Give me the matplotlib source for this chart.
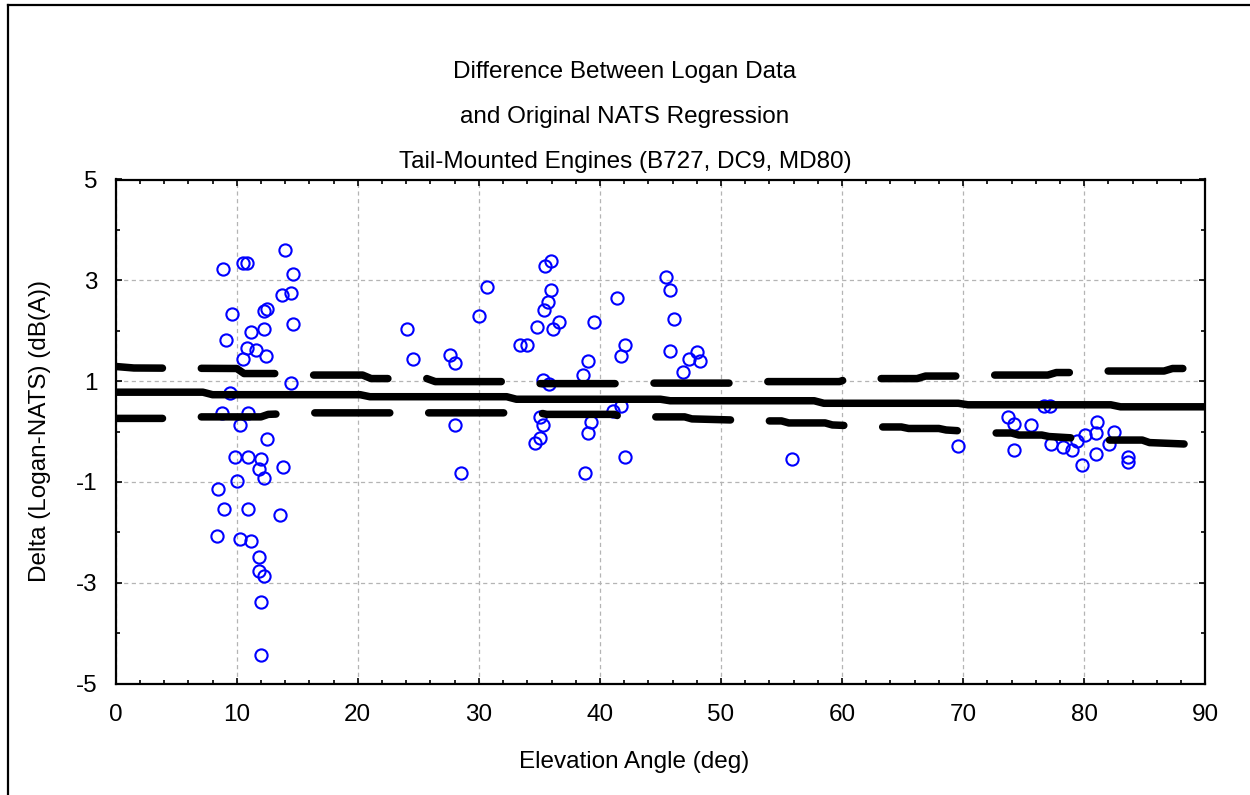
import matplotlib
matplotlib.use("Agg")
import matplotlib.pyplot as plt
from matplotlib.lines import Line2D
from matplotlib.ticker import MultipleLocator, FixedLocator

plt.rcParams['font.family'] = ['Liberation Sans', 'DejaVu Sans']
plt.rcParams['lines.scale_dashes'] = False

# ---- data ----
elev = [8.89, 10.55, 10.88, 13.97, 14.63, 13.75, 14.44, 9.62, 12.21, 12.51, 14.63,
        9.15, 11.19, 12.23, 10.88, 11.57, 12.45, 10.53, 14.44, 9.45, 8.79, 10.91,
        10.25, 12.48, 9.84, 10.91, 12.01, 13.78, 11.85, 12.23, 10.0, 8.49, 8.96,
        10.91, 13.56, 8.35, 10.25, 11.19, 11.85, 11.85, 12.23, 11.99, 11.99,
        24.06, 24.56, 27.58, 28.06, 28.06, 28.53, 30.67, 30.01, 33.43, 33.98,
        34.81, 35.44, 35.97, 35.97, 35.75, 35.41, 36.13, 36.65, 35.27, 35.77,
        35.08, 35.3, 35.08, 34.61, 39.49, 41.42, 42.11, 41.7, 39.03, 38.61,
        41.7, 41.06, 39.27, 39.03, 42.11, 38.8, 45.42, 45.83, 46.16, 45.83,
        48.04, 47.35, 48.23, 46.88, 55.9,
        69.54, 73.67, 74.22, 74.22, 75.65, 76.65, 77.2, 77.25, 78.27, 78.97,
        79.4, 80.06, 79.79, 81.06, 81.0, 80.95, 82.44, 82.02, 83.6, 83.6]
delta = [3.22, 3.35, 3.35, 3.60, 3.13, 2.71, 2.75, 2.34, 2.39, 2.43, 2.14,
         1.82, 1.98, 2.04, 1.66, 1.61, 1.50, 1.44, 0.97, 0.77, 0.36, 0.36,
         0.13, -0.14, -0.50, -0.50, -0.55, -0.70, -0.75, -0.92, -0.98, -1.14, -1.53,
         -1.53, -1.66, -2.07, -2.13, -2.17, -2.49, -2.76, -2.86, -3.38, -4.44,
         2.03, 1.44, 1.52, 1.35, 0.13, -0.82, 2.87, 2.29, 1.71, 1.71,
         2.07, 3.29, 3.38, 2.81, 2.57, 2.42, 2.03, 2.17, 1.03, 0.95,
         0.29, 0.13, -0.12, -0.22, 2.17, 2.65, 1.71, 1.50, 1.40, 1.13,
         0.50, 0.40, 0.19, -0.03, -0.51, -0.82, 3.07, 2.81, 2.23, 1.60,
         1.57, 1.44, 1.40, 1.18, -0.55,
         -0.29, 0.29, 0.15, -0.37, 0.13, 0.50, 0.50, -0.24, -0.30, -0.36,
         -0.18, -0.07, -0.67, 0.19, -0.03, -0.45, 0.0, -0.24, -0.51, -0.60]

# regression line and band
fit_x = [0, 7.2, 8.0, 20.2, 21.0, 32.3, 33.1, 45.0, 45.8, 57.7, 58.5, 69.6, 70.4, 82.2, 83.0, 90]
fit_y = [0.78, 0.78, 0.73, 0.73, 0.69, 0.69, 0.64, 0.64, 0.61, 0.61, 0.56, 0.56, 0.53, 0.53, 0.49, 0.49]

upper_x = [0, 1.5, 10.0, 10.6, 13.3, 16.0, 20.4, 21.1, 25.7, 26.4, 32.4, 34.8, 41.7, 44.2, 51.2,
           53.8, 59.8, 60.5, 66.2, 66.9, 70.0, 72.7, 77.0, 77.7, 79.5, 82.0, 86.6, 87.3, 90]
upper_y = [1.29, 1.26, 1.25, 1.15, 1.15, 1.12, 1.12, 1.05, 1.05, 0.99, 0.99, 0.95, 0.95, 0.96, 0.96,
           0.99, 0.99, 1.05, 1.05, 1.10, 1.10, 1.12, 1.12, 1.17, 1.17, 1.20, 1.20, 1.25, 1.25]

lower_x = [0, 4.5, 6.5, 12.0, 12.6, 16.0, 35.0, 35.6, 41.2, 41.7, 47.0, 47.6, 53.8, 55.0, 55.6,
           58.6, 59.2, 63.2, 64.9, 65.5, 68.0, 68.6, 72.7, 74.0, 74.6, 76.5, 77.1, 82.0, 84.8,
           85.4, 88.5, 90]
lower_y = [0.26, 0.26, 0.29, 0.29, 0.34, 0.37, 0.37, 0.34, 0.34, 0.29, 0.29, 0.25, 0.21, 0.21, 0.17,
           0.17, 0.13, 0.09, 0.09, 0.06, 0.06, 0.03, -0.03, -0.03, -0.07, -0.07, -0.10, -0.17, -0.17,
           -0.22, -0.25, -0.28]

x_ticks = [0, 10, 20, 30, 40, 50, 60, 70, 80, 90]
y_ticks = [-5, -3, -1, 1, 3, 5]

title_lines = ["Difference Between Logan Data",
               "and Original NATS Regression",
               "Tail-Mounted Engines (B727, DC9, MD80)"]
x_label = "Elevation Angle (deg)"
y_label = "Delta (Logan-NATS) (dB(A))"

# ---- figure ----
W, H = 1250, 795
fig = plt.figure(figsize=(W / 100, H / 100), dpi=100)
ax = fig.add_axes([115.7 / W, 1 - 683.5 / H, (1205.2 - 115.7) / W, (683.5 - 179.5) / H])

ax.set_xlim(0, 90)
ax.set_ylim(-5, 5)
ax.xaxis.set_major_locator(FixedLocator(x_ticks))
ax.yaxis.set_major_locator(FixedLocator(y_ticks))
ax.xaxis.set_minor_locator(MultipleLocator(2))
ax.yaxis.set_minor_locator(MultipleLocator(1))
ax.tick_params(which='both', direction='in', top=True, right=True, labelsize=17.5, color='black')
ax.tick_params(axis='x', which='major', length=4, width=1.2, pad=15)
ax.tick_params(axis='y', which='major', length=4, width=1.2, pad=13)
ax.tick_params(which='minor', length=3, width=1.2)
ax.set_xticklabels([str(t) for t in x_ticks])
ax.set_yticklabels([str(t) for t in y_ticks])
for s in ax.spines.values():
    s.set_linewidth(1.6)
    s.set_color('black')

ax.grid(True, which='major', color='#b4b4b4', linewidth=0.9, linestyle=(0, (3, 2.5)))
ax.set_axisbelow(True)

ax.plot(elev, delta, linestyle='none', marker='o', markersize=8.8, markerfacecolor='none',
        markeredgecolor='#0000ff', markeredgewidth=1.5, zorder=2.5)

ax.plot(fit_x, fit_y, color='black', linewidth=5.4, solid_capstyle='round', zorder=3)
dash = (20.3, (54, 28))
ax.plot(upper_x, upper_y, color='black', linewidth=5.4, linestyle=dash,
        dash_capstyle='round', zorder=3)
ax.plot(lower_x, lower_y, color='black', linewidth=5.4, linestyle=dash,
        dash_capstyle='round', zorder=3)

# titles / labels
for t, yp in zip(title_lines, [72, 117, 162]):
    fig.text(625 / W, 1 - yp / H, t, ha='center', va='center', fontsize=17.5)
fig.text(634 / W, 1 - 762 / H, x_label, ha='center', va='center', fontsize=17.5)
fig.text(40 / W, 1 - 431 / H, y_label, ha='center', va='center', fontsize=17.5, rotation=90)

# figure border (left and top)
fig.add_artist(Line2D([7.5 / W, 7.5 / W], [0, 1 - 5 / H], transform=fig.transFigure,
                      color='black', linewidth=1.6))
fig.add_artist(Line2D([7.5 / W, 1], [1 - 5 / H, 1 - 5 / H], transform=fig.transFigure,
                      color='black', linewidth=1.6))

fig.savefig("out.png", dpi=100)
